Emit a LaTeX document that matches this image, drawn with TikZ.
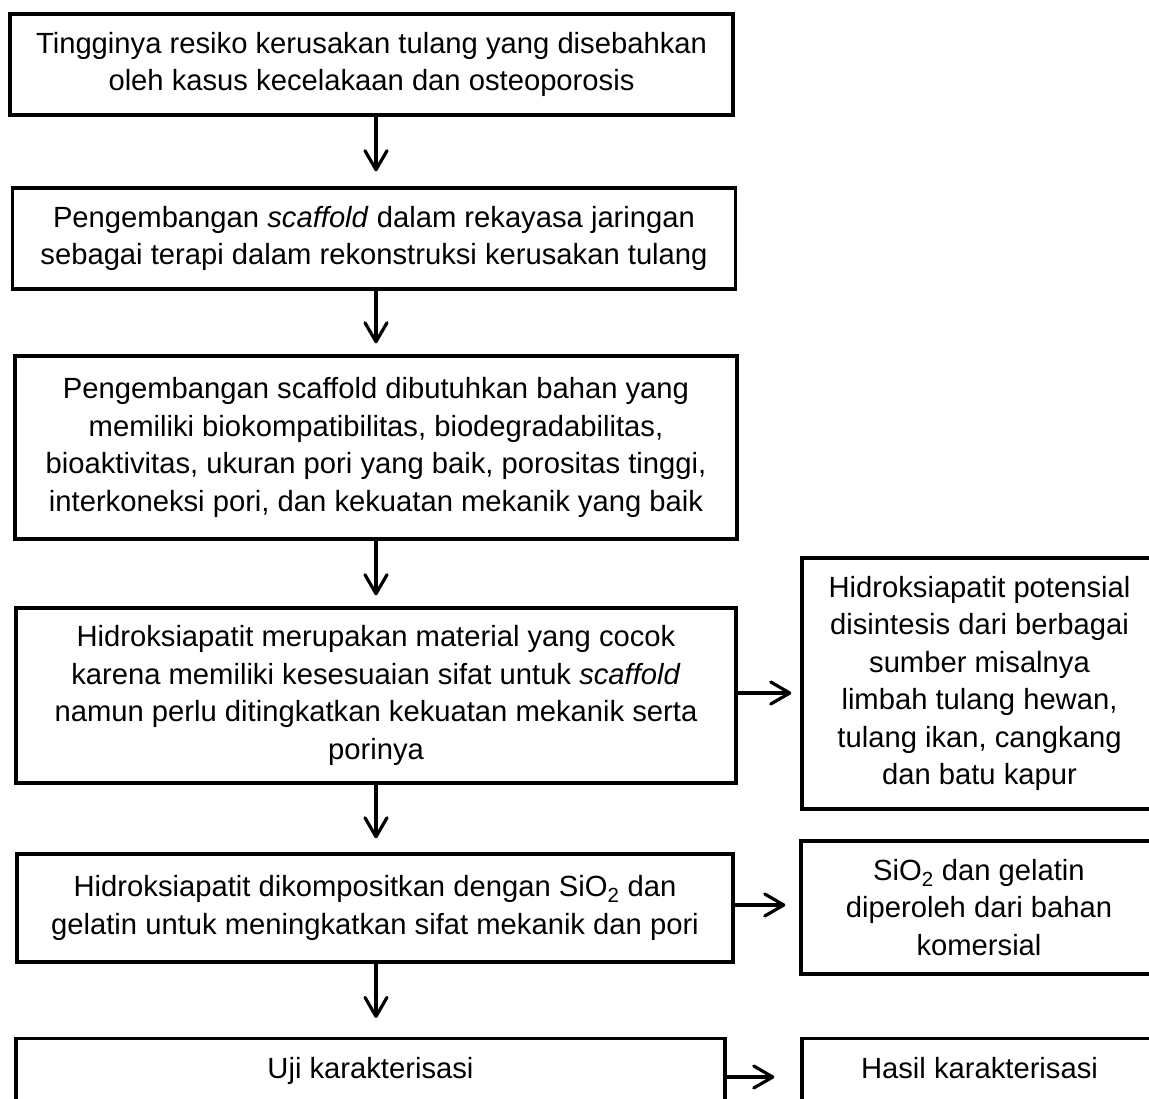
\documentclass[tikz,border=0pt]{standalone}
\usepackage{fontspec}
\setmainfont{Liberation Sans}
\usetikzlibrary{arrows.meta}
\begin{document}
\begin{tikzpicture}[x=1pt,y=-1pt,
  box/.style={draw, line width=3.3pt, align=center, inner sep=0pt, font=\fontsize{29.2}{37.5}\selectfont},
  arr/.style={line width=3.2pt, line cap=round, -{Straight Barb[length=19pt,width=22pt,line cap=round,line join=round]}},
]
\useasboundingbox (0,0) rectangle (1149,1099);
\node[box, minimum width=723pt, minimum height=101pt] (b1) at (371.5,64.5)
  {Tingginya resiko kerusakan tulang yang disebahkan\\oleh kasus kecelakaan dan osteoporosis};
\node[box, minimum width=723pt, minimum height=101pt] (b2) at (374,238.5)
  {Pengembangan \textit{scaffold} dalam rekayasa jaringan\\sebagai terapi dalam rekonstruksi kerusakan tulang};
\node[box, minimum width=722pt, minimum height=183pt] (b3) at (376,447.5)
  {Pengembangan scaffold dibutuhkan bahan yang\\memiliki biokompatibilitas, biodegradabilitas,\\bioaktivitas, ukuran pori yang baik, porositas tinggi,\\interkoneksi pori, dan kekuatan mekanik yang baik};
\node[box, minimum width=720pt, minimum height=175pt] (b4) at (376,695.5)
  {Hidroksiapatit merupakan material yang cocok\\karena memiliki kesesuaian sifat untuk \textit{scaffold}\\namun perlu ditingkatkan kekuatan mekanik serta\\porinya};
\node[box, minimum width=716pt, minimum height=108pt] (b5) at (375,908)
  {Hidroksiapatit dikompositkan dengan SiO\textsubscript{2} dan\\gelatin untuk meningkatkan sifat mekanik dan pori};
\node[box, anchor=north, minimum width=709pt, text height=30pt, text depth=55pt, inner ysep=10pt] (b6) at (370.5,1037)
  {Uji karakterisasi};
\node[box, minimum width=355pt, minimum height=251pt] (r1) at (979.5,683.5)
  {Hidroksiapatit potensial\\disintesis dari berbagai\\sumber misalnya\\limbah tulang hewan,\\tulang ikan, cangkang\\dan batu kapur};
\node[box, minimum width=356pt, minimum height=133pt] (r2) at (979,907.5)
  {SiO\textsubscript{2} dan gelatin\\diperoleh dari bahan\\komersial};
\node[box, anchor=north, minimum width=355pt, text height=30pt, text depth=55pt, inner ysep=10pt] (r3) at (979.5,1037)
  {Hasil karakterisasi};
\coordinate (ax) at (376,0);
\coordinate (h1) at (0,693);
\coordinate (h2) at (0,905);
\coordinate (h3) at (0,1077);
\draw[arr, shorten >=15pt] (b1.south -| ax) -- (b2.north -| ax);
\draw[arr, shorten >=11pt] (b2.south -| ax) -- (b3.north -| ax);
\draw[arr, shorten >=11pt] (b3.south -| ax) -- (b4.north -| ax);
\draw[arr, shorten >=14pt] (b4.south -| ax) -- (b5.north -| ax);
\draw[arr, shorten >=19pt] (b5.south -| ax) -- (b6.north -| ax);
\draw[arr, shorten >=9pt] (b4.east |- h1) -- (r1.west |- h1);
\draw[arr, shorten >=14pt] (b5.east |- h2) -- (r2.west |- h2);
\draw[arr, shorten >=26pt] (b6.east |- h3) -- (r3.west |- h3);
\end{tikzpicture}
\end{document}
